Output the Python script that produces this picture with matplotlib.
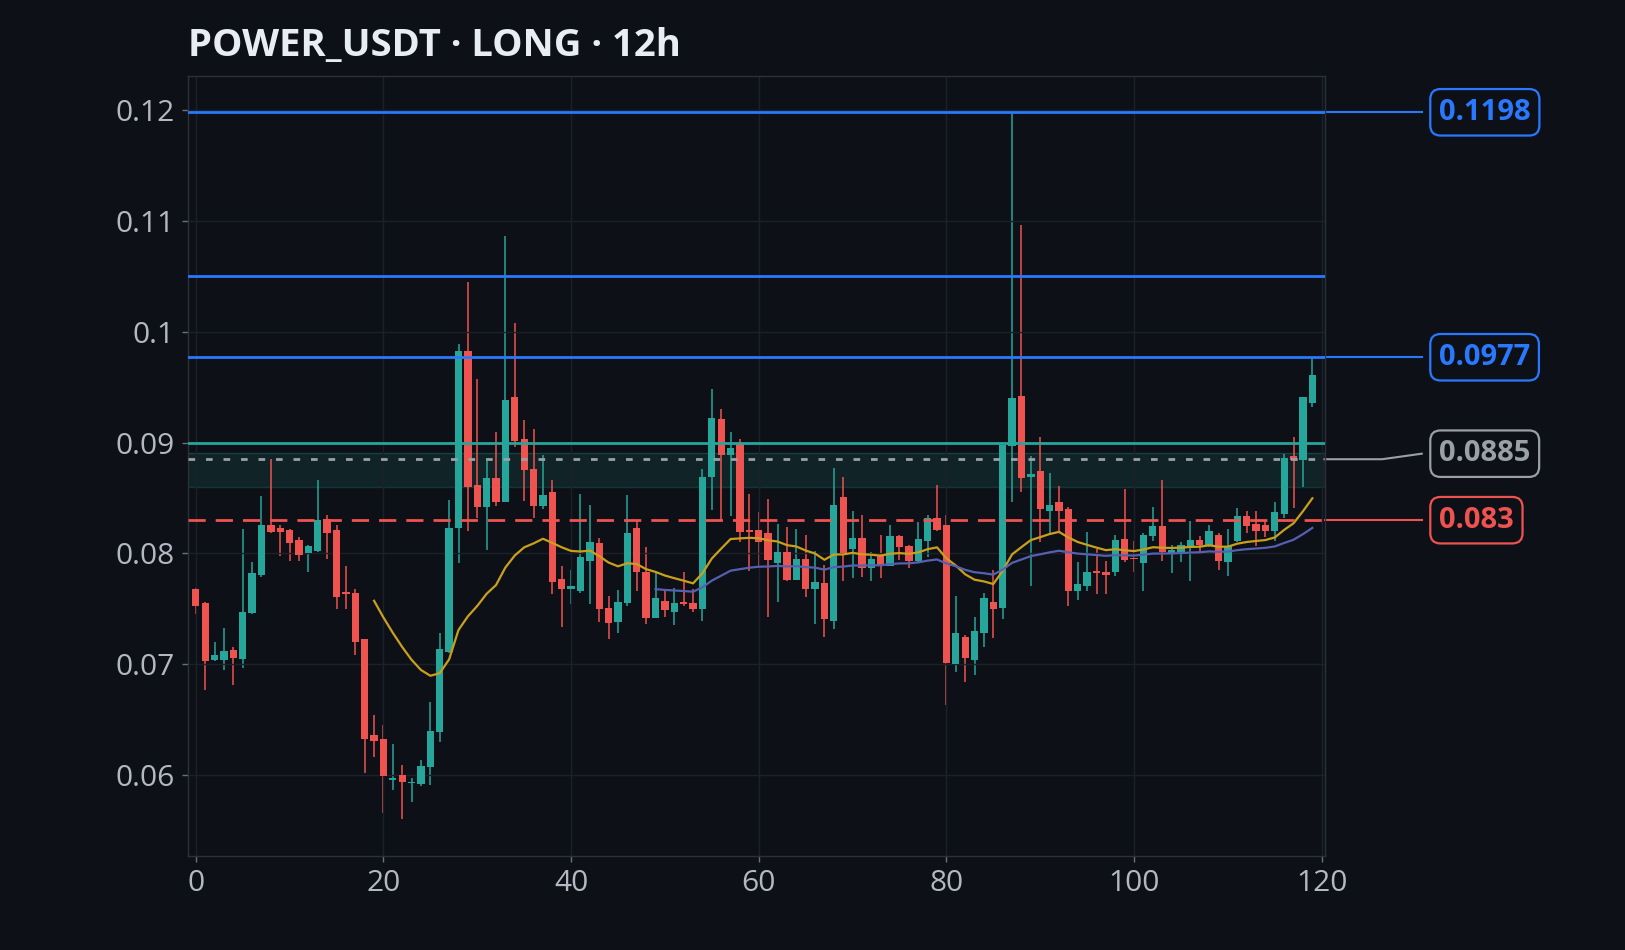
import numpy as np
import pandas as pd
import matplotlib.pyplot as plt
import matplotlib.transforms as mtransforms

# warna tema gelap
bg = '#0d1017'
up_col = '#26a69a'
down_col = '#ef5350'
blue = '#2979ff'
gray = '#9aa0a6'

plt.rcParams['font.family'] = ['Open Sans', 'DejaVu Sans']

# data candle
opens = [0.0768, 0.0755, 0.0704, 0.0704, 0.0713, 0.0705, 0.0746, 0.0781, 0.0826, 0.0823,
         0.0821, 0.0812, 0.0800, 0.0802, 0.0831, 0.0821, 0.0765, 0.0764, 0.0723, 0.0636,
         0.0633, 0.0596, 0.0600, 0.0593, 0.0592, 0.0607, 0.0639, 0.0711, 0.0823, 0.0983,
         0.0862, 0.0842, 0.0868, 0.0846, 0.0941, 0.0903, 0.0876, 0.0843, 0.0855, 0.0777,
         0.0768, 0.0766, 0.0793, 0.0809, 0.0751, 0.0738, 0.0755, 0.0823, 0.0783, 0.0742,
         0.0757, 0.0747, 0.0756, 0.0755, 0.0750, 0.0869, 0.0921, 0.0889, 0.0899, 0.0821,
         0.0821, 0.0818, 0.0791, 0.0801, 0.0776, 0.0795, 0.0768, 0.0773, 0.0739, 0.0851,
         0.0804, 0.0814, 0.0787, 0.0798, 0.0789, 0.0816, 0.0807, 0.0793, 0.0811, 0.0832,
         0.0826, 0.0700, 0.0725, 0.0704, 0.0728, 0.0756, 0.0751, 0.0897, 0.0942, 0.0869,
         0.0874, 0.0838, 0.0846, 0.0840, 0.0766, 0.0771, 0.0784, 0.0783, 0.0783, 0.0813,
         0.0796, 0.0791, 0.0816, 0.0825, 0.0800, 0.0801, 0.0807, 0.0812, 0.0808, 0.0817,
         0.0792, 0.0811, 0.0834, 0.0827, 0.0826, 0.0820, 0.0836, 0.0888, 0.0884, 0.0936]
highs = [0.0769, 0.0756, 0.0720, 0.0733, 0.0716, 0.0822, 0.0792, 0.0852, 0.0885, 0.0826,
         0.0822, 0.0815, 0.0808, 0.0866, 0.0835, 0.0826, 0.0789, 0.0768, 0.0723, 0.0654,
         0.0645, 0.0628, 0.0609, 0.0597, 0.0614, 0.0666, 0.0728, 0.0848, 0.0989, 0.1045,
         0.0957, 0.0883, 0.0910, 0.1086, 0.1008, 0.0920, 0.0912, 0.0889, 0.0866, 0.0789,
         0.0785, 0.0854, 0.0844, 0.0814, 0.0762, 0.0767, 0.0853, 0.0829, 0.0806, 0.0782,
         0.0766, 0.0769, 0.0783, 0.0768, 0.0876, 0.0948, 0.0930, 0.0910, 0.0903, 0.0854,
         0.0837, 0.0849, 0.0827, 0.0824, 0.0822, 0.0817, 0.0802, 0.0790, 0.0877, 0.0869,
         0.0838, 0.0835, 0.0801, 0.0817, 0.0826, 0.0817, 0.0808, 0.0828, 0.0835, 0.0862,
         0.0835, 0.0762, 0.0726, 0.0743, 0.0764, 0.0785, 0.0898, 0.1198, 0.1096, 0.0888,
         0.0905, 0.0873, 0.0861, 0.0842, 0.0792, 0.0819, 0.0804, 0.0793, 0.0817, 0.0858,
         0.0811, 0.0818, 0.0842, 0.0866, 0.0808, 0.0810, 0.0829, 0.0816, 0.0826, 0.0818,
         0.0822, 0.0841, 0.0838, 0.0838, 0.0829, 0.0846, 0.0890, 0.0905, 0.0941, 0.0977]
lows = [0.0745, 0.0677, 0.0703, 0.0695, 0.0681, 0.0697, 0.0745, 0.0779, 0.0818, 0.0798,
        0.0793, 0.0793, 0.0783, 0.0801, 0.0795, 0.0750, 0.0750, 0.0708, 0.0602, 0.0616,
        0.0566, 0.0587, 0.0560, 0.0576, 0.0590, 0.0591, 0.0630, 0.0710, 0.0791, 0.0820,
        0.0832, 0.0803, 0.0843, 0.0846, 0.0896, 0.0847, 0.0832, 0.0840, 0.0763, 0.0734,
        0.0754, 0.0764, 0.0754, 0.0738, 0.0723, 0.0728, 0.0753, 0.0766, 0.0736, 0.0742,
        0.0743, 0.0735, 0.0753, 0.0747, 0.0739, 0.0839, 0.0830, 0.0834, 0.0810, 0.0784,
        0.0789, 0.0743, 0.0756, 0.0775, 0.0776, 0.0761, 0.0736, 0.0725, 0.0732, 0.0775,
        0.0778, 0.0779, 0.0775, 0.0778, 0.0789, 0.0794, 0.0787, 0.0792, 0.0797, 0.0820,
        0.0663, 0.0693, 0.0684, 0.0690, 0.0716, 0.0724, 0.0741, 0.0846, 0.0855, 0.0771,
        0.0810, 0.0817, 0.0819, 0.0753, 0.0758, 0.0766, 0.0763, 0.0763, 0.0780, 0.0792,
        0.0783, 0.0766, 0.0811, 0.0793, 0.0782, 0.0792, 0.0775, 0.0800, 0.0806, 0.0785,
        0.0780, 0.0810, 0.0818, 0.0807, 0.0815, 0.0811, 0.0832, 0.0841, 0.0860, 0.0932]
closes = [0.0753, 0.0703, 0.0708, 0.0712, 0.0706, 0.0747, 0.0782, 0.0826, 0.0819, 0.0819,
          0.0809, 0.0799, 0.0807, 0.0830, 0.0818, 0.0761, 0.0763, 0.0720, 0.0633, 0.0631,
          0.0599, 0.0597, 0.0594, 0.0594, 0.0608, 0.0640, 0.0714, 0.0823, 0.0983, 0.0860,
          0.0842, 0.0868, 0.0846, 0.0938, 0.0901, 0.0875, 0.0843, 0.0853, 0.0774, 0.0768,
          0.0771, 0.0797, 0.0810, 0.0750, 0.0737, 0.0756, 0.0818, 0.0783, 0.0742, 0.0760,
          0.0749, 0.0755, 0.0754, 0.0750, 0.0869, 0.0922, 0.0889, 0.0895, 0.0819, 0.0819,
          0.0810, 0.0794, 0.0801, 0.0776, 0.0795, 0.0768, 0.0774, 0.0741, 0.0844, 0.0800,
          0.0814, 0.0787, 0.0795, 0.0790, 0.0816, 0.0806, 0.0793, 0.0813, 0.0832, 0.0821,
          0.0701, 0.0728, 0.0706, 0.0730, 0.0760, 0.0750, 0.0898, 0.0940, 0.0868, 0.0872,
          0.0840, 0.0844, 0.0838, 0.0766, 0.0772, 0.0783, 0.0782, 0.0781, 0.0812, 0.0794,
          0.0795, 0.0817, 0.0825, 0.0801, 0.0803, 0.0808, 0.0812, 0.0808, 0.0820, 0.0793,
          0.0807, 0.0834, 0.0825, 0.0820, 0.0820, 0.0837, 0.0886, 0.0884, 0.0941, 0.0961]

# level harga
tp_levels = [0.1198, 0.105, 0.0977]
resist_level = 0.090
entry_level = 0.0885
stop_level = 0.083
zone = (0.0860, 0.0891)

# label di kanan: (teks, posisi y, warna)
labels = [('0.1198', 0.1198, blue), ('0.0977', 0.0977, blue),
          ('0.0885', 0.0890, gray), ('0.083', 0.0830, down_col)]


def ema(seri, n):
    # EMA yang diawali dengan SMA n periode pertama
    hasil = np.full(len(seri), np.nan)
    a = 2.0 / (n + 1)
    hasil[n - 1] = np.mean(seri[:n])
    for i in range(n, len(seri)):
        hasil[i] = a * seri[i] + (1 - a) * hasil[i - 1]
    return hasil


df = pd.DataFrame({'open': opens, 'high': highs, 'low': lows, 'close': closes})
df['ema20'] = ema(df['close'].values, 20)
df['ema50'] = ema(df['close'].values, 50)
x = np.arange(len(df))

fig = plt.figure(figsize=(16.25, 9.5), dpi=100, facecolor=bg)
ax = fig.add_axes([0.1154, 0.0989, 0.6997, 0.8214])
ax.set_facecolor(bg)

naik = df['close'] >= df['open']
warna = np.where(naik, up_col, down_col)

# grid di atas sumbu candle
ax.set_axisbelow('line')
ax.grid(True, color='#1c2029', linewidth=1)

# candle
ax.vlines(x, df['low'], df['high'], colors=warna, linewidth=1.1, zorder=1)
tinggi = np.maximum((df['close'] - df['open']).abs(), 0.00008)
bawah = np.minimum(df['open'], df['close'])
ax.bar(x, tinggi, bottom=bawah, width=0.78, color=warna, linewidth=0, zorder=2)

# garis rata-rata
ax.plot(x, df['ema20'], color='#c9a01c', linewidth=1.6, zorder=3)
ax.plot(x, df['ema50'], color='#5560b0', linewidth=1.6, zorder=3)

# level horizontal
ax.axhspan(zone[0], zone[1], color=up_col, alpha=0.13, linewidth=0, zorder=0.8)
ax.axhline(zone[0], color=up_col, alpha=0.25, linewidth=1, zorder=0.9)
ax.axhline(zone[1], color=up_col, alpha=0.25, linewidth=1, zorder=0.9)
for lv in tp_levels:
    ax.axhline(lv, color=blue, linewidth=2, zorder=4)
ax.axhline(resist_level, color=up_col, linewidth=2, zorder=4)
ax.axhline(entry_level, color=gray, linewidth=2, linestyle=(0, (2.4, 3.9)), zorder=4)
ax.axhline(stop_level, color=down_col, linewidth=2, linestyle=(0, (6.2, 3.6)), zorder=4)

ax.set_xlim(-0.88, 120.3)
ax.set_ylim(0.0527, 0.1231)
ax.set_xticks([0, 20, 40, 60, 80, 100, 120])
ax.set_yticks([0.06, 0.07, 0.08, 0.09, 0.10, 0.11, 0.12])
ax.set_yticklabels(['0.06', '0.07', '0.08', '0.09', '0.1', '0.11', '0.12'])
ax.tick_params(colors='#6b7079', labelcolor='#b4b8c0', labelsize=21.5, length=4, width=1, pad=5)
for s in ax.spines.values():
    s.set_color('#2c303a')
    s.set_linewidth(1)

# label harga di kanan
trans = mtransforms.blended_transform_factory(ax.transAxes, ax.transData)
for teks, ly, col in labels:
    if teks == '0.0885':
        ax.plot([1.0, 1.0506, 1.0855], [entry_level, entry_level, ly], color=col,
                linewidth=1.5, transform=trans, clip_on=False)
    else:
        ax.plot([1.0, 1.0855], [ly, ly], color=col, linewidth=1.5,
                transform=trans, clip_on=False)
    ax.text(1.1007, ly, teks, transform=trans, color=col, fontsize=21, fontweight='bold',
            ha='left', va='center', clip_on=False,
            bbox=dict(boxstyle='round,pad=0.3,rounding_size=0.35', fc=bg, ec=col, lw=1.6))

fig.text(0.1154, 1 - 56 / 950, 'POWER_USDT · LONG · 12h', color='#e8ecf3',
         fontsize=27.5, fontweight='bold', ha='left', va='baseline')

plt.savefig('out.png', dpi=100, facecolor=bg)
